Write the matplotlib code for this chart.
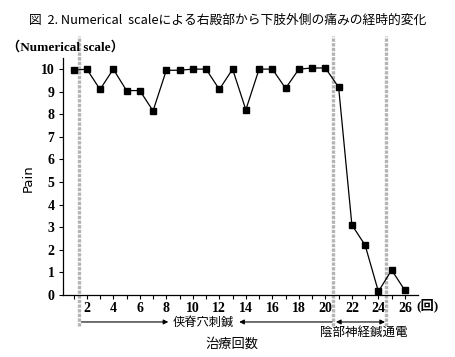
import matplotlib
matplotlib.use("Agg")
import matplotlib.pyplot as plt
import numpy as np

sessions = list(range(1, 27))
pain = [9.95, 10.0, 9.1, 10.0, 9.05, 9.05, 8.15, 9.95, 9.95, 10.0, 10.0, 9.1, 10.0,
        8.2, 10.0, 10.0, 9.15, 10.0, 10.05, 10.05, 9.2, 3.1, 2.2, 0.15, 1.1, 0.2]
xtick_vals = list(range(2, 27, 2))
ytick_vals = list(range(0, 11))
phase_bounds = [1.4, 20.6, 24.6]
title = "図  2. Numerical  scaleによる右殿部から下肢外側の痛みの経時的変化"
ylabel_top = "（Numerical scale）"
phase1 = "侠脊穴刺鍼"
phase2 = "陰部神経鍼通電"
xlabel = "治療回数"
unit = "(回)"

serif_b = dict(family=["Liberation Serif", "Noto Sans CJK JP"], fontweight="bold")
cjk = ["Noto Sans CJK JP", "DejaVu Sans"]

fig = plt.figure(figsize=(4.56, 3.57), dpi=100)
ax = fig.add_axes([0.138, 0.174, 0.779, 0.664])
ax.set_xlim(0.2, 27.0)
ax.set_ylim(0, 10.5)

ax.plot(sessions, pain, color="black", lw=0.9, marker="s", markersize=5,
        markerfacecolor="black", markeredgecolor="black", zorder=3)

for b in phase_bounds:
    ax.axvline(b, ymin=-0.13, ymax=1.09, color="#b4b4b4", lw=2.4,
               linestyle=(0, (1, 0.4)), clip_on=False, zorder=2)

for s in ["top", "right"]:
    ax.spines[s].set_visible(False)
ax.spines["left"].set_linewidth(0.9)
ax.spines["bottom"].set_linewidth(0.9)

ax.set_xticks(xtick_vals)
ax.set_xticks(sessions, minor=True)
ax.set_yticks(ytick_vals)
ax.tick_params(axis="x", which="both", direction="out", length=3, width=0.8, pad=2)
ax.tick_params(axis="y", direction="out", length=3, width=0.8, pad=3)
ax.set_xticklabels([str(v) for v in xtick_vals], fontsize=10, **serif_b)
ax.set_yticklabels([str(v) for v in ytick_vals], fontsize=10, **serif_b)

ax.text(26.9, -0.48, unit, fontsize=9.5, ha="left", va="center", clip_on=False,
        **serif_b)

# title and labels
fig.text(0.5, 0.943, title, ha="center", va="center", fontsize=9.2, family=cjk)
fig.text(0.015, 0.868, ylabel_top, ha="left", va="center", fontsize=9.5, **serif_b)
fig.text(0.062, 0.50, "Pain", rotation=90, ha="center", va="center", fontsize=9.5,
         family=["DejaVu Sans"])

# phase annotations
ya = -1.2
ax.annotate("", xy=(8.15, ya), xytext=(1.6, ya), annotation_clip=False,
            arrowprops=dict(arrowstyle="-|>", color="black", lw=0.8,
                            mutation_scale=7, shrinkA=0, shrinkB=0))
ax.annotate("", xy=(13.5, ya), xytext=(20.5, ya), annotation_clip=False,
            arrowprops=dict(arrowstyle="-|>", color="black", lw=0.8,
                            mutation_scale=7, shrinkA=0, shrinkB=0))
ax.text(10.8, ya, phase1, ha="center", va="center", fontsize=8.8, family=cjk,
        clip_on=False)
ax.annotate("", xy=(24.5, ya), xytext=(20.8, ya), annotation_clip=False,
            arrowprops=dict(arrowstyle="<|-|>", color="black", lw=0.8,
                            mutation_scale=7, shrinkA=0, shrinkB=0))
ax.text(22.9, -1.65, phase2, ha="center", va="center", fontsize=9, family=cjk,
        clip_on=False)
ax.text(12.95, -2.18, xlabel, ha="center", va="center", fontsize=9.5, family=cjk,
        clip_on=False)

fig.savefig("out.png", dpi=100)
